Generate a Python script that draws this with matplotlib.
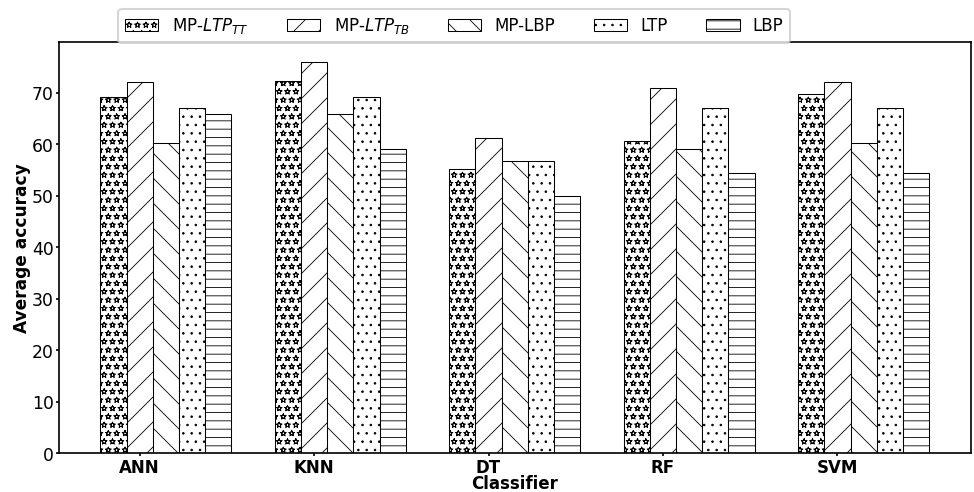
import numpy as np
import matplotlib
matplotlib.use("Agg")
import matplotlib.pyplot as plt
import matplotlib.hatch

# classifiers and accuracies
classifiers = ["ANN", "KNN", "DT", "RF", "SVM"]
mp_ltp_tt = [69.3, 72.3, 55.3, 60.6, 69.7]
mp_ltp_tb = [72.1, 76.1, 61.3, 71.0, 72.1]
mp_lbp = [60.2, 65.9, 56.8, 59.1, 60.3]
ltp = [67.1, 69.3, 56.8, 67.1, 67.1]
lbp = [65.9, 59.1, 49.9, 54.4, 54.4]

series = [mp_ltp_tt, mp_ltp_tb, mp_lbp, ltp, lbp]
names = [r"MP-$LTP_{TT}$", r"MP-$LTP_{TB}$", "MP-LBP", "LTP", "LBP"]
hatches = ["***", "//", "\\\\", "...", "---"]

# outlined stars like the original
matplotlib.hatch.Stars.filled = False
plt.rcParams["hatch.linewidth"] = 0.4

DPI = 150
fig, ax = plt.subplots(figsize=(974.4 / DPI, 492.4 / DPI), dpi=DPI)
fig.subplots_adjust(left=0.0605, right=0.996, top=0.914, bottom=0.079)

x = np.arange(len(classifiers))
w = 0.15
for i, (vals, name, h) in enumerate(zip(series, names, hatches)):
    ax.bar(x + (i - 1) * w, vals, w, label=name, color="white",
           edgecolor="black", hatch=h, linewidth=0.5)

ax.set_xticks(x)
ax.set_xticklabels(classifiers, fontsize=8.0, fontweight="bold")
ax.tick_params(axis="both", length=1.5, pad=1.0)
ax.tick_params(axis="y", labelsize=8.3)
ax.set_xlabel("Classifier", fontsize=8.0, fontweight="bold", labelpad=-0.7)
ax.set_ylabel("Average accuracy", fontsize=8.2, fontweight="bold", labelpad=0.2)

fig.legend(loc="upper left", bbox_to_anchor=(0.113, 0.997), ncol=5,
           fontsize=8, handlelength=2.0, columnspacing=2.3)

plt.savefig("out.png", dpi=DPI)
